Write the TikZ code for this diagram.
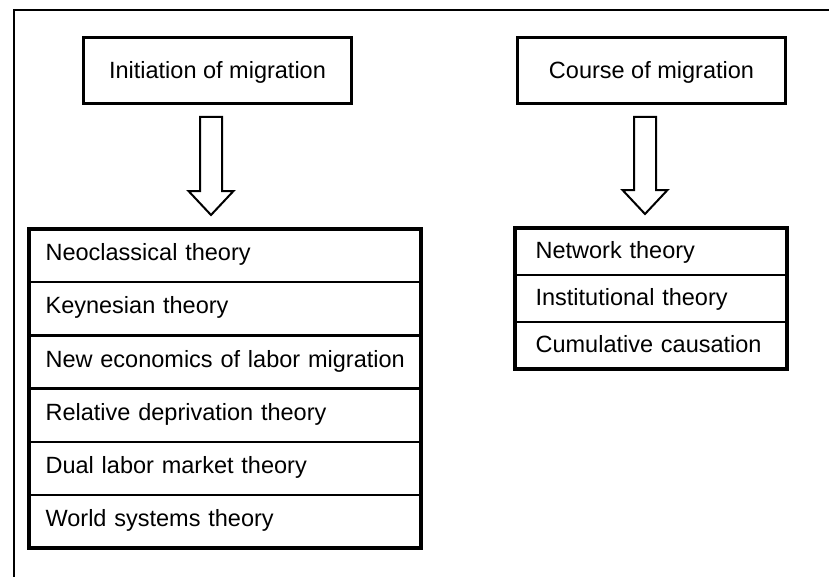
\documentclass[tikz,border=0pt]{standalone}
\usepackage{fontspec}
\setmainfont{Liberation Sans}
\usetikzlibrary{positioning,calc}
\begin{document}
\begin{tikzpicture}[x=1pt,y=1pt,
  every node/.style={font=\fontsize{23.5}{26}\selectfont},
  headbox/.style={draw,line width=2.5pt,minimum width=268pt,minimum height=66pt,inner sep=0pt,text height=16pt,text depth=1pt},
  leftrow/.style={draw,line width=1.2pt,minimum height=52pt,inner ysep=0pt,inner xsep=16pt,text width=359pt,align=left,text height=16pt,text depth=6pt},
  rightrow/.style={draw,line width=1.2pt,minimum height=45.67pt,inner ysep=0pt,inner xsep=20pt,text width=231pt,align=left,text height=16pt,text depth=1pt},
  listframe/.style={draw,line width=4pt},
  hollow/.style={draw,line width=2pt,fill=white,line join=miter}
]
\useasboundingbox (0,0) rectangle (829,-576);
\fill[white] (0,0) rectangle (829,-576);
% outer frame (cut by the picture's edges)
\draw[line width=2pt] (14,-580) -- (14,-10) -- (833,-10);

% heading boxes
\node[headbox] (init) at (217.5,-70.5) {Initiation of migration};
\node[headbox] (course) at (651.5,-70.5) {Course of migration};

% left list
\node[leftrow,anchor=north west] (L1) at (29,-229) {\mbox{Neoclassical theory}};
\node[leftrow,below=0pt of L1] (L2) {\mbox{Keynesian theory}};
\node[leftrow,below=0pt of L2] (L3) {\mbox{New economics of labor migration}};
\node[leftrow,below=0pt of L3] (L4) {\mbox{Relative deprivation theory}};
\node[leftrow,below=0pt of L4] (L5) {\mbox{Dual labor market theory}};
\node[leftrow,below=0pt of L5] (L6) {\mbox{World systems theory}};
\draw[listframe] (L1.north west) rectangle (L6.south east);

% right list
\node[rightrow,anchor=north west] (R1) at (515,-228) {\mbox{Network theory}};
\node[rightrow,below=0pt of R1] (R2) {\mbox{Institutional theory}};
\node[rightrow,below=0pt of R2] (R3) {\mbox{Cumulative causation}};
\draw[listframe] (R1.north west) rectangle (R3.south east);

% hollow block arrows
\coordinate (a1) at ($(init.south)+(-6.5,0)$);
\coordinate (t1) at ($(a1 |- L1.north)+(0,14)$);
\draw[hollow] ($(a1)+(-11,-12)$) -- ($(a1)+(11,-12)$) -- ($(t1)+(11,24)$) -- ($(t1)+(22.5,24)$)
  -- (t1) -- ($(t1)+(-22.5,24)$) -- ($(t1)+(-11,24)$) -- cycle;

\coordinate (a2) at ($(course.south)+(-6.5,0)$);
\coordinate (t2) at ($(a2 |- R1.north)+(0,14)$);
\draw[hollow] ($(a2)+(-11,-12)$) -- ($(a2)+(11,-12)$) -- ($(t2)+(11,24)$) -- ($(t2)+(22.5,24)$)
  -- (t2) -- ($(t2)+(-22.5,24)$) -- ($(t2)+(-11,24)$) -- cycle;
\end{tikzpicture}
\end{document}
